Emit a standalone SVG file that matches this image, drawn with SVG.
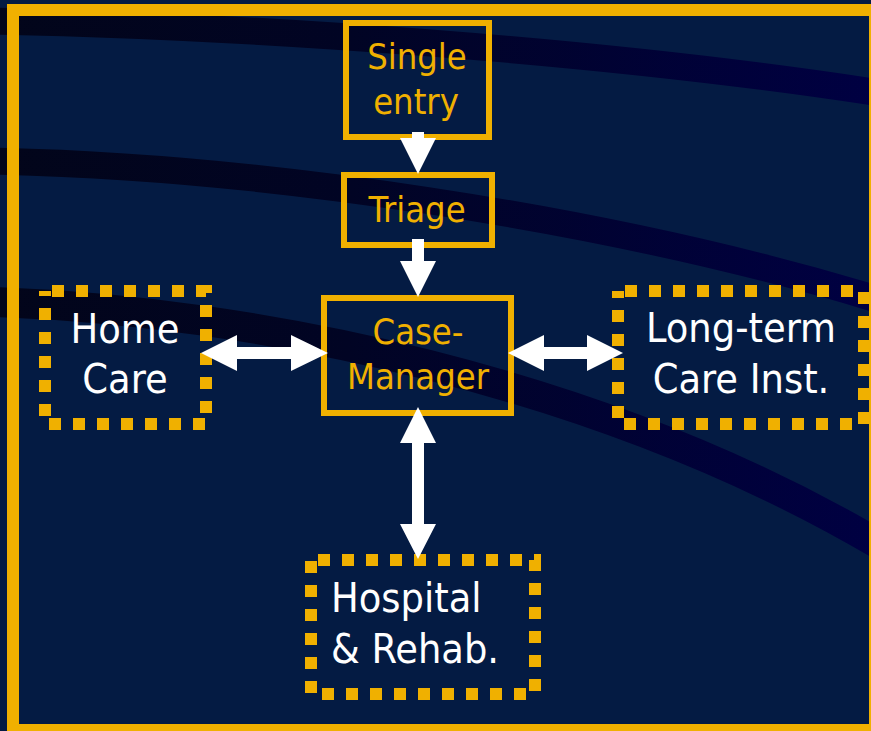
<svg xmlns="http://www.w3.org/2000/svg" width="871" height="731" viewBox="0 0 871 731">
<defs>
<linearGradient id="sw" gradientUnits="userSpaceOnUse" x1="0" y1="0" x2="871" y2="0">
<stop offset="0" stop-color="#02051a"/>
<stop offset="0.4" stop-color="#010424"/>
<stop offset="1" stop-color="#000042"/>
</linearGradient>
<style>
.sw{fill:none;stroke:url(#sw);stroke-width:27}
.solid{fill:none;stroke:#F0B000;stroke-width:6}
.dot{fill:none;stroke:#F0B000;stroke-width:12;stroke-dasharray:12 12}
.yt{font-family:"DejaVu Sans Condensed","DejaVu Sans",sans-serif;font-stretch:condensed;font-size:36px;fill:#F0B000;text-anchor:middle}
.wt{font-family:"DejaVu Sans Condensed","DejaVu Sans",sans-serif;font-stretch:condensed;font-size:41px;fill:#FFFFFF;text-anchor:middle}
.arr{fill:#FFFFFF}
</style>
</defs>
<rect x="0" y="0" width="871" height="731" fill="#041b43"/>
<g id="background">
<path class="sw" d="M -10 21 C 250 26, 600 50, 880 93"/>
<path class="sw" d="M -10 161 C 250 166, 600 215, 880 300"/>
<path class="sw" d="M -10 302 C 250 310, 600 380, 880 545" style="stroke-width:30"/>
<rect x="13" y="10" width="862" height="720" fill="none" stroke="#F0B000" stroke-width="12"/>
</g>
<g id="single-entry">
<rect class="solid" x="346" y="23" width="143" height="114"/>
<text class="yt" x="417" y="69">Single</text>
<text class="yt" x="416" y="114">entry</text>
</g>
<g id="triage">
<rect class="solid" x="344" y="175" width="148" height="70"/>
<text class="yt" x="417" y="222">Triage</text>
</g>
<g id="case-manager">
<rect class="solid" x="324" y="298" width="187" height="115"/>
<text class="yt" x="418" y="344">Case-</text>
<text class="yt" x="418" y="389">Manager</text>
</g>
<g id="home-care">
<rect class="dot" x="45" y="291" width="161" height="133" style="stroke-dashoffset:17"/>
<text class="wt" x="125" y="343">Home</text>
<text class="wt" x="125" y="393">Care</text>
</g>
<g id="long-term-care">
<rect class="dot" x="618" y="291" width="246" height="133" style="stroke-dashoffset:17"/>
<text class="wt" x="741" y="342">Long-term</text>
<text class="wt" x="741" y="393">Care Inst.</text>
</g>
<g id="hospital-rehab">
<rect class="dot" x="311" y="560" width="224" height="134" style="stroke-dashoffset:17"/>
<text class="wt" x="331" y="612" style="text-anchor:start">Hospital</text>
<text class="wt" x="331" y="663" style="text-anchor:start">&amp; Rehab.</text>
</g>
<g id="connectors">
<polygon class="arr" points="412,132 424,132 424,138 436,138 418,174 400,138 412,138"/>
<polygon class="arr" points="412,239 424,239 424,261 436,261 418,297 400,261 412,261"/>
<polygon class="arr" points="201,353 237,335 237,347 291,347 291,335 328,353 291,371 291,359 237,359 237,371"/>
<polygon class="arr" points="508,353 544,335 544,347 587,347 587,335 623,353 587,371 587,359 544,359 544,371"/>
<polygon class="arr" points="418,407 436,443 424,443 424,524 436,524 418,559 400,524 412,524 412,443 400,443"/>
</g>
</svg>
